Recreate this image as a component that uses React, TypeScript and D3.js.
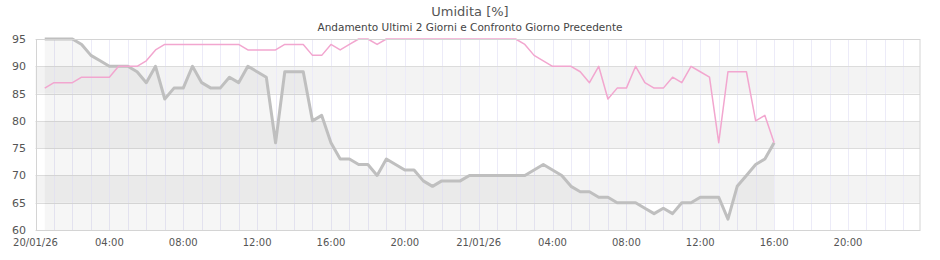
import React from "react";
import * as d3 from "d3";

// Half-hourly readings from 20/01/26 00:30 to 21/01/26 16:00
const currentValues: number[] = [
  95, 95, 95, 95, 94, 92, 91, 90, 90, 90,
  89, 87, 90, 84, 86, 86, 90, 87, 86, 86,
  88, 87, 90, 89, 88, 76, 89, 89, 89, 80,
  81, 76, 73, 73, 72, 72, 70, 73, 72, 71,
  71, 69, 68, 69, 69, 69, 70, 70, 70, 70,
  70, 70, 70, 71, 72, 71, 70, 68, 67, 67,
  66, 66, 65, 65, 65, 64, 63, 64, 63, 65,
  65, 66, 66, 66, 62, 68, 70, 72, 73, 76,
];

const previousDayValues: number[] = [
  86, 87, 87, 87, 88, 88, 88, 88, 90, 90,
  90, 91, 93, 94, 94, 94, 94, 94, 94, 94,
  94, 94, 93, 93, 93, 93, 94, 94, 94, 92,
  92, 94, 93, 94, 95, 95, 94, 95, 95, 95,
  95, 95, 95, 95, 95, 95, 95, 95, 95, 95,
  95, 95, 94, 92, 91, 90, 90, 90, 89, 87,
  90, 84, 86, 86, 90, 87, 86, 86, 88, 87,
  90, 89, 88, 76, 89, 89, 89, 80, 81, 76,
];

const yTicks: number[] = [60, 65, 70, 75, 80, 85, 90, 95];
const bandRanges: [number, number][] = [[65, 70], [75, 80], [85, 90]];

const title = "Umidita [%]";
const subtitle = "Andamento Ultimi 2 Giorni e Confronto Giorno Precedente";

const W = 940;
const H = 260;
const left = 35.5;
const right = 920;
const top = 39;
const bottom = 230;

const startDate = new Date(2026, 0, 20, 0, 0);
const endDate = new Date(2026, 0, 21, 23, 54);
const firstPoint = new Date(2026, 0, 20, 0, 30);

const times = currentValues.map((_, i) => new Date(firstPoint.getTime() + i * 30 * 60 * 1000));

export default function App() {
  const x = d3.scaleTime().domain([startDate, endDate]).range([left, right]);
  const y = d3.scaleLinear().domain([60, 95]).range([bottom, top]);

  const hourTicks = d3.timeHour.every(1)!.range(startDate, endDate);
  const labelTicks = d3.timeHour.every(4)!.range(startDate, endDate);
  const fmtLabel = (d: Date) =>
    d.getHours() === 0 ? d3.timeFormat("%d/%m/%y")(d) : d3.timeFormat("%H:%M")(d);

  const line = d3
    .line<number>()
    .x((_, i) => x(times[i]))
    .y((v) => y(v));
  const area = d3
    .area<number>()
    .x((_, i) => x(times[i]))
    .y0(y(60))
    .y1((v) => y(v));

  const font = "'DejaVu Sans', sans-serif";

  return (
    <svg
      width={W}
      height={H}
      style={{ position: "absolute", left: 0, top: 0, background: "#fff" }}
      fontFamily={font}
    >
      <rect x={0} y={0} width={W} height={H} fill="#fff" />
      <text x={470} y={16} textAnchor="middle" fontSize={13} fill="#555">
        {title}
      </text>
      <text x={470} y={31} textAnchor="middle" fontSize={10.5} fill="#444">
        {subtitle}
      </text>

      {bandRanges.map(([a, b], i) => (
        <rect key={i} x={left} width={right - left} y={y(b)} height={y(a) - y(b)} fill="#f3f3f3" />
      ))}

      {hourTicks.map((d, i) => (
        <line
          key={i}
          x1={Math.round(x(d)) + 0.5}
          x2={Math.round(x(d)) + 0.5}
          y1={top}
          y2={bottom}
          stroke="#ecebf8"
          strokeWidth={1}
        />
      ))}

      {yTicks.map((t) => (
        <line
          key={t}
          x1={left}
          x2={right}
          y1={Math.round(y(t)) + 0.5}
          y2={Math.round(y(t)) + 0.5}
          stroke="#dcdcdc"
          strokeWidth={1}
        />
      ))}

      <path d={area(currentValues) ?? ""} fill="rgba(0,0,0,0.035)" />
      <path
        d={line(currentValues) ?? ""}
        fill="none"
        stroke="#bfbfbf"
        strokeWidth={3}
        strokeLinejoin="round"
      />
      <path
        d={line(previousDayValues) ?? ""}
        fill="none"
        stroke="#f2a6cf"
        strokeWidth={1.5}
        strokeLinejoin="round"
      />

      <rect
        x={Math.round(left) + 0.5}
        y={top + 0.5}
        width={right - Math.round(left) - 0.5}
        height={bottom - top}
        fill="none"
        stroke="#d4d4d4"
        strokeWidth={1}
      />

      {yTicks.map((t) => (
        <text key={t} x={26} y={y(t) + 4} textAnchor="end" fontSize={11} fill="#555">
          {t}
        </text>
      ))}

      {labelTicks.map((d, i) => (
        <text key={i} x={x(d)} y={246} textAnchor="middle" fontSize={10} fill="#555">
          {fmtLabel(d)}
        </text>
      ))}
    </svg>
  );
}
